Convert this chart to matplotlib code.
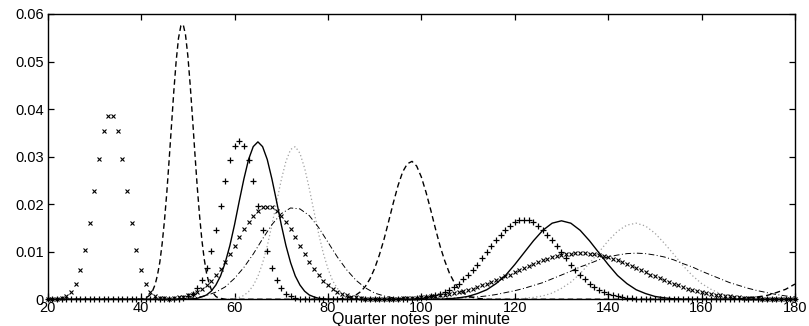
import numpy as np
import matplotlib
matplotlib.use("Agg")
import matplotlib.pyplot as plt

plt.rcParams["font.family"] = ["Liberation Sans", "DejaVu Sans"]

# tempo grid (quarter notes per minute) for the marker series
tempo = np.arange(20, 181)

# "x" marker series
x_series = [
    0, 0, .0001, .0003, .0007, .0016, .0033, .0061, .0103, .0160,
    .0227, .0296, .0353, .0386, .0386, .0353, .0296, .0227, .0160, .0103,
    .0061, .0033, .0016, .0007, .0003, .0002, .0001, .0002, .0004, .0005,
    .0008, .0011, .0016, .0022, .0030, .0039, .0051, .0064, .0079, .0096,
    .0113, .0131, .0148, .0163, .0176, .0186, .0193, .0195, .0193, .0186,
    .0176, .0163, .0148, .0131, .0113, .0096, .0079, .0064, .0051, .0039,
    .0030, .0022, .0016, .0011, .0008, .0005, .0004, .0002, .0001, .0001,
    .0001, .0001, .0001, .0001, .0001, .0001, .0002, .0002, .0003, .0003,
    .0004, .0005, .0006, .0007, .0008, .0009, .0011, .0013, .0015, .0017,
    .0020, .0022, .0025, .0029, .0032, .0036, .0040, .0044, .0048, .0052,
    .0057, .0061, .0065, .0070, .0074, .0078, .0082, .0085, .0088, .0091,
    .0093, .0095, .0096, .0097, .0097, .0097, .0096, .0095, .0093, .0091,
    .0088, .0085, .0082, .0078, .0074, .0070, .0065, .0061, .0057, .0052,
    .0048, .0044, .0040, .0036, .0032, .0029, .0025, .0022, .0020, .0017,
    .0015, .0013, .0011, .0009, .0008, .0007, .0006, .0005, .0004, .0003,
    .0003, .0002, .0002, .0001, .0001, .0001, .0001, .0001, .0001, 0,
    0,
]

# "+" marker series
plus_series = [
    0, 0, 0, 0, 0, 0, 0, 0, 0, 0,
    0, 0, 0, 0, 0, 0, 0, 0, 0, 0,
    0, 0, 0, 0, 0, 0, 0, .0001, .0001, .0003,
    .0006, .0012, .0023, .0041, .0066, .0102, .0146, .0197, .0248, .0292,
    .0322, .0333, .0322, .0292, .0248, .0197, .0146, .0102, .0066, .0041,
    .0023, .0012, .0006, .0003, .0001, .0001, 0, 0, 0, 0,
    0, 0, 0, 0, 0, 0, 0, 0, 0, 0,
    0, 0, 0, 0, 0, 0, .0001, .0001, .0001, .0002,
    .0003, .0004, .0006, .0009, .0012, .0016, .0020, .0026, .0033, .0042,
    .0051, .0062, .0073, .0086, .0099, .0112, .0124, .0136, .0146, .0155,
    .0162, .0166, .0167, .0166, .0162, .0155, .0146, .0136, .0124, .0112,
    .0099, .0086, .0073, .0062, .0051, .0042, .0033, .0026, .0020, .0016,
    .0012, .0009, .0006, .0004, .0003, .0002, .0001, .0001, .0001, 0,
    0, 0, 0, 0, 0, 0, 0, 0, 0, 0,
    0, 0, 0, 0, 0, 0, 0, 0, 0, 0,
    0, 0, 0, 0, 0, 0, 0, 0, 0, 0,
    0,
]

# dashed curve
dashed_x = [20, 40,
            41, 41.5, 42, 42.5, 43, 43.5, 44, 44.5, 45, 45.5, 46, 46.5,
            47, 47.5, 48, 48.5, 49, 49.5, 50, 50.5, 51, 51.5, 52, 52.5,
            53, 53.5, 54, 54.5, 55, 55.5, 56, 56.5, 57, 58,
            82, 83, 84, 85, 86, 87, 88, 89, 90, 91, 92, 93, 94, 95, 96, 97,
            98, 99, 100, 101, 102, 103, 104, 105, 106, 107, 108, 109, 110,
            111, 112, 113, 114,
            166, 168, 170, 172, 174, 176, 178, 180]
dashed_y = [0, 0,
            .0003, .0006, .0010, .0019, .0031, .0051, .0078, .0117, .0166,
            .0225, .0294, .0366, .0438, .0501, .0549, .0575, .0578, .0556,
            .0512, .0451, .0381, .0308, .0238, .0177, .0125, .0085, .0055,
            .0035, .0021, .0012, .0006, .0003, .0002, 0,
            0, .0001, .0003, .0005, .0009, .0016, .0027, .0043, .0065, .0093,
            .0126, .0164, .0203, .0239, .0268, .0285, .0290, .0280, .0257,
            .0225, .0188, .0149, .0112, .0081, .0055, .0036, .0022, .0013,
            .0007, .0004, .0002, .0001, 0,
            0, .0001, .0003, .0005, .0008, .0014, .0021, .0032]

# solid curve
solid_x = [20, 50, 51, 52, 53, 54, 55, 56, 57, 58, 59, 60, 61, 62, 63, 64,
           65, 66, 67, 68, 69, 70, 71, 72, 73, 74, 75, 76, 77, 78, 79, 80,
           104, 106, 108, 110, 112, 114, 116, 118, 120, 122, 124, 126, 128,
           130, 132, 134, 136, 138, 140, 142, 144, 146, 148, 150, 152, 154,
           156, 180]
solid_y = [0, 0, .0001, .0002, .0005, .0009, .0017, .0030, .0049, .0077,
           .0113, .0157, .0206, .0253, .0294, .0321, .0331, .0321, .0294,
           .0253, .0206, .0157, .0113, .0077, .0049, .0030, .0017, .0009,
           .0005, .0002, .0001, 0,
           0, .0001, .0003, .0006, .0012, .0020, .0033, .0050, .0073, .0098,
           .0123, .0145, .0160, .0165, .0160, .0145, .0123, .0098, .0073,
           .0050, .0033, .0020, .0012, .0006, .0003, .0001, 0, 0]

# dotted (grey) curve
dotted_x = [20, 59, 60, 61, 62, 63, 64, 65, 66, 67, 68, 69, 70, 71, 72, 73,
            74, 75, 76, 77, 78, 79, 80, 81, 82, 83, 84, 85, 86, 87,
            120, 122, 124, 126, 128, 130, 132, 134, 136, 138, 140, 142, 144,
            146, 148, 150, 152, 154, 156, 158, 160, 162, 164, 166, 168, 170,
            172, 174, 180]
dotted_y = [0, 0, .0002, .0004, .0008, .0016, .0029, .0048, .0076, .0112,
            .0156, .0204, .0251, .0290, .0315, .0321, .0307, .0276, .0233,
            .0185, .0138, .0097, .0064, .0039, .0023, .0012, .0006, .0003,
            .0001, 0,
            0, .0002, .0004, .0007, .0013, .0023, .0036, .0054, .0076, .0099,
            .0123, .0143, .0156, .0160, .0154, .0139, .0118, .0095, .0071,
            .0050, .0033, .0021, .0012, .0007, .0003, .0002, .0001, 0, 0]

# dash-dot curve
dashdot_x = [20, 48, 50, 52, 54, 56, 58, 60, 62, 64, 66, 68, 70, 72, 74, 76,
             78, 80, 82, 84, 86, 88, 90, 92, 94, 96, 98, 102,
             104, 106, 108, 110, 112, 114, 116, 118, 120, 122, 124, 126, 128,
             130, 132, 134, 136, 138, 140, 142, 144, 146, 148, 150, 152, 154,
             156, 158, 160, 162, 164, 166, 168, 170, 172, 174, 176, 178, 180]
dashdot_y = [0, 0, .0002, .0004, .0008, .0015, .0026, .0044, .0067, .0095,
             .0127, .0157, .0180, .0192, .0190, .0176, .0151, .0120, .0089,
             .0062, .0040, .0024, .0013, .0007, .0003, .0001, 0, 0,
             .0001, .0002, .0003, .0004, .0005, .0007, .0010, .0014, .0018,
             .0023, .0029, .0035, .0043, .0051, .0059, .0068, .0075, .0083,
             .0089, .0093, .0096, .0097, .0096, .0093, .0089, .0083, .0075,
             .0068, .0059, .0051, .0043, .0035, .0029, .0023, .0018, .0014,
             .0010, .0007, .0005]

x_ticks = [20, 40, 60, 80, 100, 120, 140, 160, 180]
y_ticks = [0, 0.01, 0.02, 0.03, 0.04, 0.05, 0.06]
y_tick_labels = ["0", "0.01", "0.02", "0.03", "0.04", "0.05", "0.06"]

fig = plt.figure(figsize=(8.09, 3.26), dpi=100)
ax = fig.add_axes([0.059, 0.082, 0.9237, 0.8752])

ax.plot(dotted_x, dotted_y, color="#a0a0a0", lw=0.9, linestyle=(0, (1, 2)))
ax.plot(dashdot_x, dashdot_y, color="black", lw=0.7, linestyle=(0, (6, 2.5, 1, 2.5)))
ax.plot(dashed_x, dashed_y, color="black", lw=1.0, linestyle=(0, (4, 2.5)))
ax.plot(solid_x, solid_y, color="black", lw=1.0)
ax.plot(tempo, x_series, linestyle="none", marker="x", markersize=2.8,
        markeredgewidth=0.8, color="black", clip_on=False)
ax.plot(tempo, plus_series, linestyle="none", marker="+", markersize=4,
        markeredgewidth=0.9, color="black", clip_on=False)

ax.set_xlim(20, 180)
ax.set_ylim(0, 0.06)
ax.set_xticks(x_ticks)
ax.set_yticks(y_ticks)
ax.set_yticklabels(y_tick_labels)
ax.tick_params(direction="in", top=True, right=True, length=4, width=0.9,
               labelsize=10.5)
ax.tick_params(axis="x", pad=1)
ax.tick_params(axis="y", pad=3)
for s in ax.spines.values():
    s.set_linewidth(1.0)

ax.set_xlabel("Quarter notes per minute", fontsize=11.5, labelpad=-2)

fig.savefig("out.png", dpi=100)
